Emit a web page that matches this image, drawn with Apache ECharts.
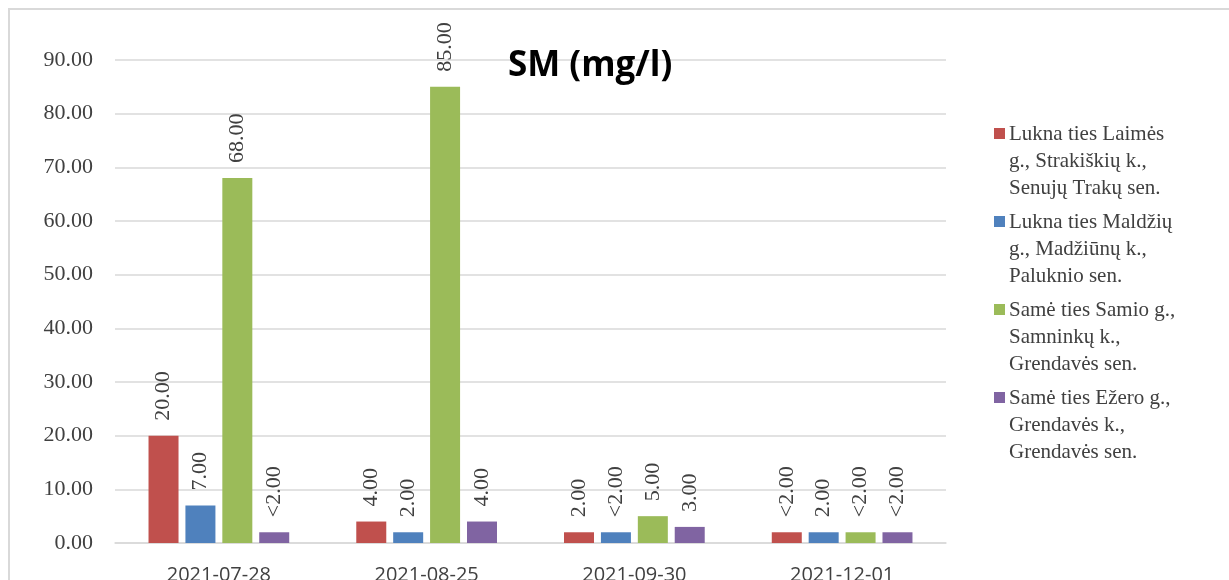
<!DOCTYPE html>
<html>
<head>
<meta charset="utf-8">
<script src="https://cdn.jsdelivr.net/npm/echarts@6/dist/echarts.min.js"></script>
<style>
html,body{margin:0;padding:0;background:#fff;}
#chart{width:1229px;height:580px;}
</style>
</head>
<body>
<div id="chart"></div>
<script>
const categories = ['2021-07-28', '2021-08-25', '2021-09-30', '2021-12-01'];
const seriesLines = [
  ['Lukna ties Laimės', 'g., Strakiškių k.,', 'Senujų Trakų sen.'],
  ['Lukna ties Maldžių', 'g., Madžiūnų k.,', 'Paluknio sen.'],
  ['Samė ties Samio g.,', 'Samninkų k.,', 'Grendavės sen.'],
  ['Samė ties Ežero g.,', 'Grendavės k.,', 'Grendavės sen.']
];
const values1 = [20, 4, 2, 2];
const values2 = [7, 2, 2, 2];
const values3 = [68, 85, 5, 2];
const values4 = [2, 4, 3, 2];
const labels1 = ['20.00', '4.00', '2.00', '<2.00'];
const labels2 = ['7.00', '2.00', '<2.00', '2.00'];
const labels3 = ['68.00', '85.00', '5.00', '<2.00'];
const labels4 = ['<2.00', '4.00', '3.00', '<2.00'];
const yTicks = [0, 10, 20, 30, 40, 50, 60, 70, 80, 90];

const colors = ['#C0504D', '#4F81BD', '#9BBB59', '#8064A2'];
const allValues = [values1, values2, values3, values4];
const allLabels = [labels1, labels2, labels3, labels4];

const chart = echarts.init(document.getElementById('chart'));

const series = allValues.map((vals, i) => ({
  name: seriesLines[i].join(' '),
  type: 'bar',
  data: vals,
  barWidth: 30,
  barGap: '23%',
  itemStyle: { color: colors[i] },
  label: {
    show: true,
    position: 'top',
    distance: 15,
    rotate: 90,
    align: 'left',
    verticalAlign: 'middle',
    fontFamily: 'Liberation Serif',
    fontSize: 22,
    color: '#404040',
    formatter: p => allLabels[i][p.dataIndex]
  }
}));

const graphics = [{
  type: 'rect',
  shape: { x: 9, y: 9, width: 1400, height: 800 },
  style: { fill: 'none', stroke: '#d9d9d9', lineWidth: 2 },
  silent: true
}];
seriesLines.forEach((lines, i) => {
  const top = 128 + i * 88;
  graphics.push({
    type: 'rect',
    shape: { x: 994, y: top, width: 11, height: 11 },
    style: { fill: colors[i] }
  });
  lines.forEach((ln, j) => {
    graphics.push({
      type: 'text',
      x: 1009,
      y: top + 6 + j * 27,
      style: {
        text: ln,
        fontFamily: 'Liberation Serif',
        fontSize: 21,
        fill: '#404040',
        verticalAlign: 'middle',
        align: 'left'
      }
    });
  });
});

chart.setOption({
  animation: false,
  title: {
    text: 'SM (mg/l)',
    left: 503,
    top: 44,
    textStyle: {
      fontFamily: 'Open Sans',
      fontWeight: 'bold',
      fontSize: 35,
      color: '#000'
    }
  },
  grid: { left: 115, right: 283, top: 60, bottom: 37, containLabel: false, outerBoundsMode: 'none' },
  xAxis: {
    type: 'category',
    data: categories,
    axisTick: { show: false },
    axisLine: { lineStyle: { color: '#d9d9d9', width: 1.5 } },
    axisLabel: {
      margin: 22,
      fontFamily: 'Open Sans',
      fontSize: 20,
      color: '#404040'
    }
  },
  yAxis: {
    type: 'value',
    min: yTicks[0],
    max: yTicks[yTicks.length - 1],
    interval: yTicks[1] - yTicks[0],
    axisLine: { show: false },
    axisTick: { show: false },
    splitLine: { lineStyle: { color: '#d9d9d9', width: 1.5 } },
    axisLabel: {
      margin: 22,
      fontFamily: 'Liberation Serif',
      fontSize: 22,
      color: '#404040',
      formatter: v => v.toFixed(2)
    }
  },
  graphic: graphics,
  series: series
});
</script>
</body>
</html>
